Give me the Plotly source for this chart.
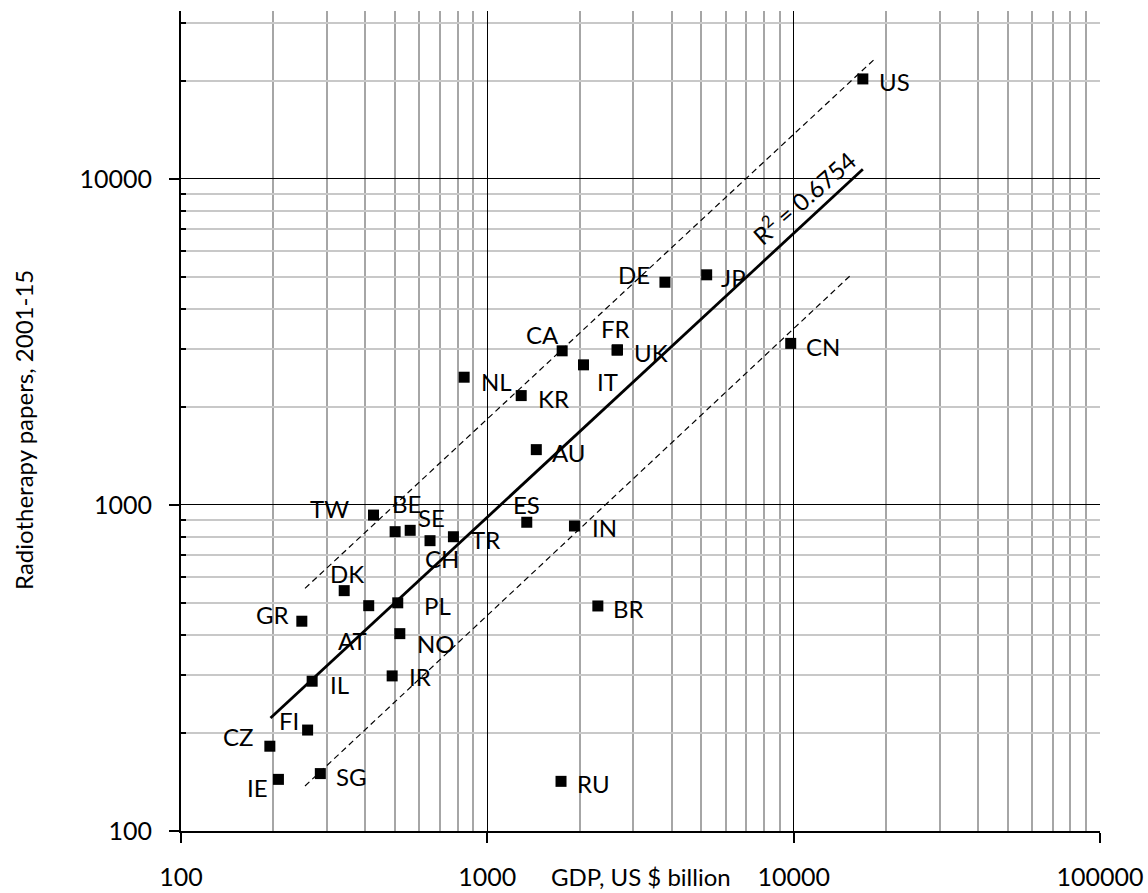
import numpy as np
import plotly.graph_objects as go

# ---- data ----
countries = ["US", "DE", "JP", "CN", "CA", "FR", "UK", "IT", "NL", "KR", "AU", "ES", "IN", "BR", "RU",
             "TW", "BE", "SE", "CH", "TR", "DK", "PL", "GR", "AT", "NO", "IL", "IR", "FI", "CZ", "IE", "SG"]
gdp = [16820, 3800, 5200, 9780, 1755, 2660, 2650, 2060, 840, 1290, 1445, 1345, 1925, 2295, 1740,
       425, 500, 560, 650, 775, 341, 510, 248, 410, 518, 268, 489, 259, 195, 208, 285]
papers = [20260, 4820, 5080, 3130, 2970, 2990, 2985, 2690, 2465, 2165, 1478, 885, 862, 490, 142,
          931, 828, 836, 777, 799, 546, 501, 440, 491, 403, 288, 299, 204, 182, 144, 150]
# label offsets in pixels (dx right, dy down)
label_dx = [32, -31, 27, 32, -20, -2, 34, 24, 32, 32, 33, 0, 30, 31, 32,
            -44, 11, 21, 12, 32, 3, 40, -29, -16, 36, 27, 28, -19, -32, -21, 31]
label_dy = [3, -8, 3, 3, -16, -21, 2, 17, 4, 3, 3, -18, 2, 3, 2,
            -7, -28, -13, 18, 3, -17, 3, -7, 35, 10, 3, 1, -10, -10, 8, 3]

trend_x = [196, 16820]
trend_y = [222, 10707]
upper_x = [254, 18590]
upper_y = [555, 23550]
lower_x = [254, 15300]
lower_y = [137.4, 5050]
r2_text = "R<sup>2</sup> = 0.6754"

x_major = [100, 1000, 10000, 100000]
y_major = [100, 1000, 10000]
x_minor = [m * 10 ** k for k in (2, 3, 4) for m in range(2, 10)]
y_minor = [m * 10 ** k for k in (2, 3, 4) for m in range(2, 10) if m * 10 ** k <= 32000]

FONT = "Lato, Open Sans, sans-serif"

fig = go.Figure()

fig.add_trace(go.Scatter(x=upper_x, y=upper_y, mode="lines",
                         line=dict(color="black", width=1.2, dash="6px,4px"), hoverinfo="skip"))
fig.add_trace(go.Scatter(x=lower_x, y=lower_y, mode="lines",
                         line=dict(color="black", width=1.2, dash="6px,4px"), hoverinfo="skip"))
fig.add_trace(go.Scatter(x=trend_x, y=trend_y, mode="lines",
                         line=dict(color="black", width=2.8), hoverinfo="skip"))
fig.add_trace(go.Scatter(x=gdp, y=papers, mode="markers",
                         marker=dict(symbol="square", size=11, color="black"),
                         text=countries))

for c, gx, py, dx, dy in zip(countries, gdp, papers, label_dx, label_dy):
    fig.add_annotation(x=np.log10(gx), y=np.log10(py), text=c, showarrow=False,
                       xshift=dx, yshift=-dy, xanchor="center", yanchor="middle",
                       font=dict(family=FONT, size=24, color="black"))

fig.add_annotation(x=4.0293, y=3.9448, text=r2_text, showarrow=False, textangle=-41,
                   xanchor="center", yanchor="middle",
                   font=dict(family=FONT, size=24, color="black"))

fig.add_annotation(xref="paper", yref="paper", x=0.5005, y=-0.056, text="GDP, US $ billion",
                   showarrow=False, xanchor="center", yanchor="middle",
                   font=dict(family=FONT, size=24, color="black"))
fig.add_annotation(xref="paper", yref="paper", x=-0.172, y=0.489, text="Radiotherapy papers, 2001-15",
                   showarrow=False, textangle=-90, xanchor="center", yanchor="middle",
                   font=dict(family=FONT, size=24, color="black"))

fig.update_xaxes(type="log", range=[2, 5], tickmode="array", tickvals=x_major,
                 ticktext=[str(v) for v in x_major], automargin=False,
                 showgrid=True, gridcolor="black", gridwidth=1,
                 showline=True, linecolor="black", linewidth=2,
                 ticks="outside", ticklen=10, tickwidth=1.5, tickcolor="black",
                 ticklabelstandoff=13,
                 tickfont=dict(family=FONT, size=25, color="black"),
                 minor=dict(tickmode="array", tickvals=x_minor, showgrid=True,
                            gridcolor="#a6a6a6", gridwidth=1.5, ticks=""),
                 zeroline=False)
fig.update_yaxes(type="log", range=[2, 4.515], tickmode="array", tickvals=y_major,
                 ticktext=[str(v) for v in y_major], automargin=False,
                 showgrid=True, gridcolor="black", gridwidth=1,
                 showline=True, linecolor="black", linewidth=2,
                 ticks="outside", ticklen=10, tickwidth=1.5, tickcolor="black",
                 ticklabelstandoff=12,
                 tickfont=dict(family=FONT, size=25, color="black"),
                 minor=dict(tickmode="array", tickvals=y_minor, showgrid=True,
                            gridcolor="#c8c8c8", gridwidth=1.5, ticks="inside",
                            ticklen=5, tickcolor="black", tickwidth=1.5),
                 zeroline=False)

fig.update_layout(width=1148, height=893, showlegend=False,
                  margin=dict(l=181, r=48, t=11, b=62),
                  plot_bgcolor="white", paper_bgcolor="white")

fig.write_html("out.html", config={"displayModeBar": False},
               post_script="document.body.style.margin='0';document.body.style.overflow='hidden';")
